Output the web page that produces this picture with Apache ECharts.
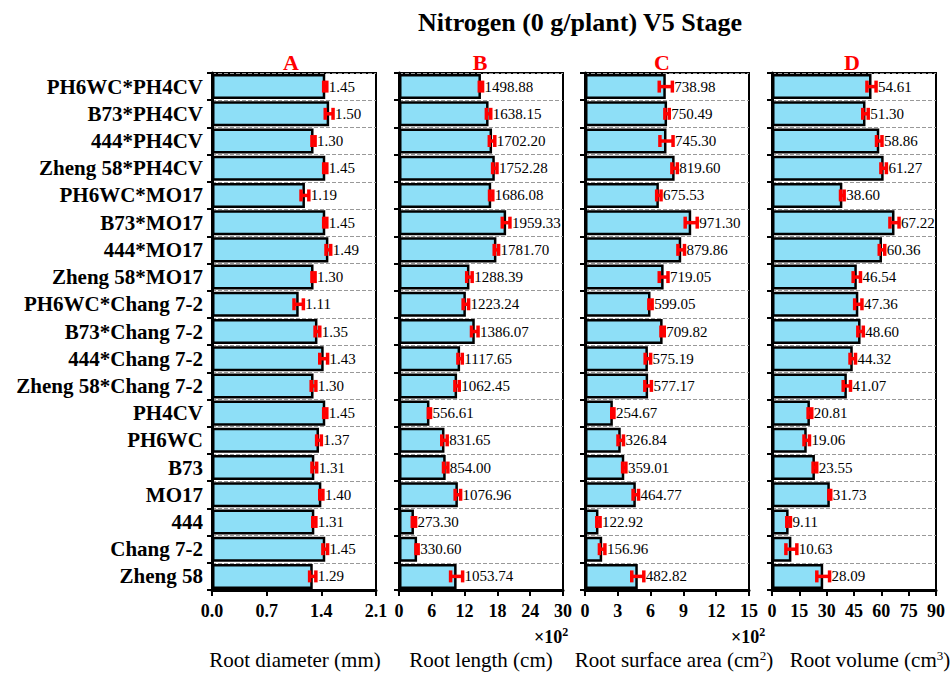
<!DOCTYPE html>
<html><head><meta charset="utf-8">
<script src="https://cdn.jsdelivr.net/npm/echarts/dist/echarts.min.js"></script>
<style>html,body{margin:0;padding:0;background:#fff}#c{width:951px;height:673px}</style>
</head><body><div id="c"></div>
<script>
const categories = ["PH6WC*PH4CV","B73*PH4CV","444*PH4CV","Zheng 58*PH4CV","PH6WC*MO17","B73*MO17","444*MO17","Zheng 58*MO17","PH6WC*Chang 7-2","B73*Chang 7-2","444*Chang 7-2","Zheng 58*Chang 7-2","PH4CV","PH6WC","B73","MO17","444","Chang 7-2","Zheng 58"];
const diameter = [1.45,1.50,1.30,1.45,1.19,1.45,1.49,1.30,1.11,1.35,1.43,1.30,1.45,1.37,1.31,1.40,1.31,1.45,1.29];
const diameterErr = [0.02,0.05,0.02,0.02,0.05,0.02,0.03,0.02,0.06,0.03,0.05,0.03,0.02,0.03,0.03,0.02,0.02,0.03,0.04];
const rootLength = [1498.88,1638.15,1702.20,1752.28,1686.08,1959.33,1781.70,1288.39,1223.24,1386.07,1117.65,1062.45,556.61,831.65,854.00,1076.96,273.30,330.60,1053.74];
const rootLengthErr = [30,40,50,40,30,70,40,50,50,60,40,40,20,50,40,50,30,20,110];
const surface = [738.98,750.49,745.30,819.60,675.53,971.30,879.86,719.05,599.05,709.82,575.19,577.17,254.67,326.84,359.01,464.77,122.92,156.96,482.82];
const surfaceErr = [60,20,60,25,20,55,30,40,15,15,25,30,10,25,15,25,15,25,55];
const volume = [54.61,51.30,58.86,61.27,38.60,67.22,60.36,46.54,47.36,48.60,44.32,41.07,20.81,19.06,23.55,31.73,9.11,10.63,28.09];
const volumeErr = [2.5,1.5,1.5,1.5,1.0,2.5,1.5,2.0,2.0,1.5,1.5,2.0,1.0,1.5,1.0,0.5,1.0,3.0,3.5];

const xMax = [2.1, 3000, 1500, 90];
const xInterval = [0.7, 600, 300, 15];
const panelLetters = ["A","B","C","D"];

const FONT = "'Liberation Serif','Times New Roman',serif";
const panels = [
  {vals: diameter, errs: diameterErr, div: 1, dec: 1},
  {vals: rootLength, errs: rootLengthErr, div: 100, dec: 0},
  {vals: surface, errs: surfaceErr, div: 100, dec: 0},
  {vals: volume, errs: volumeErr, div: 1, dec: 0}
];
const lefts = [212, 399, 585, 772];
const W = 164, TOP = 73, BOTTOM = 673 - 590;

function errItem(params, api){
  const v = api.value(0), i = api.value(1), e = api.value(2);
  const p0 = api.coord([v - e, i]), p1 = api.coord([v + e, i]);
  const h = api.size([0, 1])[1] * 0.22;
  const y = p0[1];
  const st = {stroke: '#ff0000', lineWidth: 3.5};
  return {type: 'group', children: [
    {type: 'line', shape: {x1: p0[0], y1: y, x2: p1[0], y2: y}, style: st},
    {type: 'line', shape: {x1: p0[0], y1: y - h, x2: p0[0], y2: y + h}, style: st},
    {type: 'line', shape: {x1: p1[0], y1: y - h, x2: p1[0], y2: y + h}, style: st},
    {type: 'text', x: p1[0] + 2, y: y, style: {text: v.toFixed(2), fill: '#000', font: '15px ' + FONT, align: 'left', verticalAlign: 'middle'}}
  ]};
}

const grid = [], xAxis = [], yAxis = [], series = [];
panels.forEach((p, k) => {
  grid.push({left: lefts[k], width: W, top: TOP, bottom: BOTTOM, show: true, borderColor: '#000', borderWidth: 2, containLabel: false});
  xAxis.push({
    type: 'value', gridIndex: k, min: 0, max: xMax[k], interval: xInterval[k],
    axisLine: {show: true, lineStyle: {color: '#000', width: 3}},
    axisTick: {show: true, length: 6, lineStyle: {color: '#000', width: 2}},
    splitLine: {show: false},
    axisLabel: {margin: 12, color: '#000', fontFamily: FONT, fontWeight: 'bold', fontSize: 18,
      formatter: (v) => (v / p.div).toFixed(p.dec)}
  });
  yAxis.push({
    type: 'category', gridIndex: k, data: categories, inverse: true,
    axisLine: {show: true, lineStyle: {color: '#000', width: 3}},
    axisTick: {show: true, length: 5, interval: 0, lineStyle: {color: '#000', width: 2}},
    splitLine: {show: true, interval: 0, lineStyle: {color: '#999', type: 'dashed', width: 1}},
    axisLabel: {show: k === 0, interval: 0, margin: 9, color: '#000', fontFamily: FONT, fontWeight: 'bold', fontSize: 21}
  });
  series.push({
    type: 'bar', xAxisIndex: k, yAxisIndex: k, data: p.vals, barCategoryGap: '8%',
    itemStyle: {color: '#8EDFF7', borderColor: '#000', borderWidth: 2.5},
    silent: true, animation: false
  });
  series.push({
    type: 'custom', xAxisIndex: k, yAxisIndex: k, renderItem: errItem,
    encode: {x: 0, y: 1},
    data: p.vals.map((v, i) => [v, i, p.errs[i]]),
    z: 5, silent: true, animation: false
  });
});

const letterX = [291, 480, 662, 852];
const graphic = [
  {type: 'text', x: 580, y: 22, style: {text: 'Nitrogen (0 g/plant) V5 Stage', font: 'bold 26px ' + FONT, fill: '#000', align: 'center', verticalAlign: 'middle'}},
];
panelLetters.forEach((t, k) => graphic.push({type: 'text', x: letterX[k], y: 62,
  style: {text: t, font: 'bold 22px ' + FONT, fill: '#ff0000', align: 'center', verticalAlign: 'middle'}}));
[551, 748].forEach(x => graphic.push({type: 'text', x: x, y: 637,
  style: {text: '×10{s|2}', rich: {s: {fontSize: 12, verticalAlign: 'top', padding: [0,0,10,0], fontFamily: FONT, fontWeight: 'bold'}},
    font: 'bold 18px ' + FONT, fill: '#000', align: 'center', verticalAlign: 'middle'}}));
const axisNames = ['Root diameter (mm)', 'Root length (cm)', 'Root surface area (cm{s|2})', 'Root volume (cm{s|3})'];
const nameX = [295, 481, 674, 870];
axisNames.forEach((t, k) => graphic.push({type: 'text', x: nameX[k], y: 660,
  style: {text: t, rich: {s: {fontSize: 13, fontFamily: FONT, padding: [0,0,10,0]}}, font: '21px ' + FONT, fill: '#000', align: 'center', verticalAlign: 'middle'}}));

const chart = echarts.init(document.getElementById('c'), null, {renderer: 'svg'});
chart.setOption({animation: false, backgroundColor: '#fff', grid, xAxis, yAxis, series, graphic});
</script></body></html>
